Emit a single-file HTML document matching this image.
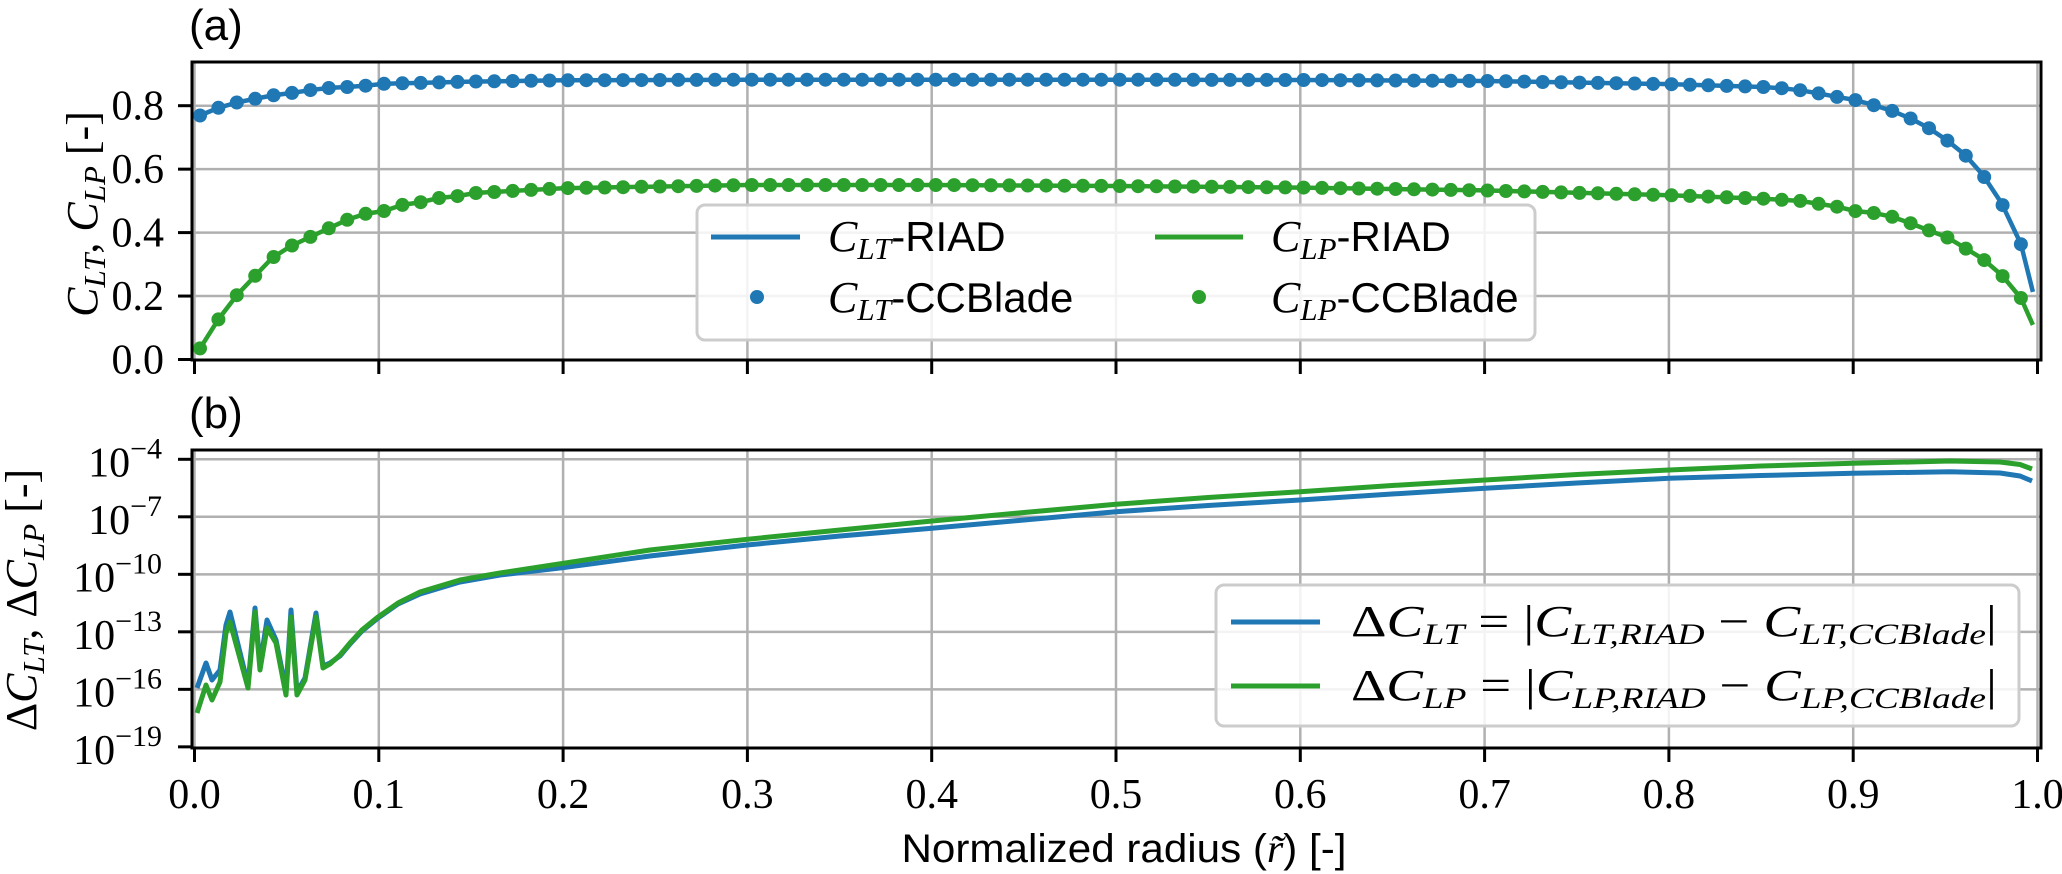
<!DOCTYPE html>
<html><head><meta charset="utf-8">
<style>
html,body{margin:0;padding:0;background:#fff;}
svg{display:block;}
.serif{font-family:"Liberation Serif","DejaVu Serif",serif;}
.sans{font-family:"Liberation Sans","DejaVu Sans",sans-serif;}
</style></head>
<body>
<svg id="s" width="2062" height="874" viewBox="0 0 2062 874" xmlns="http://www.w3.org/2000/svg">
<defs>
<clipPath id="ct"><rect x="192" y="62" width="1849" height="298"/></clipPath>
<clipPath id="cb"><rect x="192" y="450" width="1849" height="298"/></clipPath>
</defs>
<g id="grid" stroke="#b0b0b0" stroke-width="2.5"></g>
<g id="data"></g>
<rect x="192" y="62" width="1849" height="298" fill="none" stroke="#000" stroke-width="3"/>
<rect x="192" y="450" width="1849" height="298" fill="none" stroke="#000" stroke-width="3"/>
<g id="ticks" stroke="#000" stroke-width="3"></g>
<g id="labels" class="serif" font-size="42" fill="#000"></g>

<text x="189" y="40" class="sans" font-size="44">(a)</text>
<text x="189" y="428" class="sans" font-size="44">(b)</text>

<text class="serif" font-size="44" transform="translate(97,214) rotate(-90)" text-anchor="middle"><tspan font-style="italic">C</tspan><tspan font-style="italic" font-size="31" dy="8">LT</tspan><tspan dy="-8">, </tspan><tspan font-style="italic">C</tspan><tspan font-style="italic" font-size="31" dy="8">LP</tspan><tspan dy="-8"> [-]</tspan></text>
<text class="serif" font-size="44" transform="translate(36,600) rotate(-90)" text-anchor="middle">Δ<tspan font-style="italic">C</tspan><tspan font-style="italic" font-size="31" dy="8">LT</tspan><tspan dy="-8">, Δ</tspan><tspan font-style="italic">C</tspan><tspan font-style="italic" font-size="31" dy="8">LP</tspan><tspan dy="-8"> [-]</tspan></text>

<text x="1124" y="862" class="sans" font-size="40" text-anchor="middle" textLength="445" lengthAdjust="spacingAndGlyphs">Normalized radius (<tspan class="serif" font-style="italic">r̃</tspan>) [-]</text>

<rect x="697" y="205" width="838" height="135" rx="8" fill="#fff" fill-opacity="0.85" stroke="#cccccc" stroke-width="3"/>
<line x1="711" y1="237" x2="800" y2="237" stroke="#1f77b4" stroke-width="5"/>
<line x1="1155" y1="237" x2="1243" y2="237" stroke="#2ca02c" stroke-width="5"/>
<circle cx="757" cy="297" r="7" fill="#1f77b4"/>
<circle cx="1199" cy="297" r="7" fill="#2ca02c"/>
<text x="828" y="251" font-size="44"><tspan class="serif" font-style="italic">C</tspan><tspan class="serif" font-style="italic" font-size="31" dy="8">LT</tspan><tspan class="sans" font-size="42" dy="-8">-RIAD</tspan></text>
<text x="828" y="312" font-size="44"><tspan class="serif" font-style="italic">C</tspan><tspan class="serif" font-style="italic" font-size="31" dy="8">LT</tspan><tspan class="sans" font-size="42" dy="-8">-CCBlade</tspan></text>
<text x="1271" y="251" font-size="44"><tspan class="serif" font-style="italic">C</tspan><tspan class="serif" font-style="italic" font-size="31" dy="8">LP</tspan><tspan class="sans" font-size="42" dy="-8">-RIAD</tspan></text>
<text x="1271" y="312" font-size="44"><tspan class="serif" font-style="italic">C</tspan><tspan class="serif" font-style="italic" font-size="31" dy="8">LP</tspan><tspan class="sans" font-size="42" dy="-8">-CCBlade</tspan></text>

<rect x="1216" y="585" width="803" height="141" rx="8" fill="#fff" fill-opacity="0.85" stroke="#cccccc" stroke-width="3"/>
<line x1="1231" y1="622" x2="1320" y2="622" stroke="#1f77b4" stroke-width="5"/>
<line x1="1231" y1="686" x2="1320" y2="686" stroke="#2ca02c" stroke-width="5"/>
<text x="1351" y="636" class="serif" font-size="44" textLength="646" lengthAdjust="spacingAndGlyphs">Δ<tspan font-style="italic">C</tspan><tspan font-style="italic" font-size="30" dy="8">LT</tspan><tspan dy="-8"> = |</tspan><tspan font-style="italic">C</tspan><tspan font-style="italic" font-size="30" dy="8">LT,RIAD</tspan><tspan dy="-8"> − </tspan><tspan font-style="italic">C</tspan><tspan font-style="italic" font-size="30" dy="8">LT,CCBlade</tspan><tspan dy="-8">|</tspan></text>
<text x="1351" y="700" class="serif" font-size="44" textLength="646" lengthAdjust="spacingAndGlyphs">Δ<tspan font-style="italic">C</tspan><tspan font-style="italic" font-size="30" dy="8">LP</tspan><tspan dy="-8"> = |</tspan><tspan font-style="italic">C</tspan><tspan font-style="italic" font-size="30" dy="8">LP,RIAD</tspan><tspan dy="-8"> − </tspan><tspan font-style="italic">C</tspan><tspan font-style="italic" font-size="30" dy="8">LP,CCBlade</tspan><tspan dy="-8">|</tspan></text>
</svg>
<script>
(function(){
var NS="http://www.w3.org/2000/svg";
function el(tag,attrs,parent){var e=document.createElementNS(NS,tag);for(var k in attrs)e.setAttribute(k,attrs[k]);if(parent)parent.appendChild(e);return e;}
var X=function(r){return 194.5+1843*r;};
var YT=function(v){return 359.5-317.25*v;};
var YB=function(e){return 459.3+(-4-e)*19.17;};
var grid=document.getElementById('grid'),ticks=document.getElementById('ticks'),labels=document.getElementById('labels'),data=document.getElementById('data');
for(var i=0;i<=10;i++){var x=X(i/10);
 el('line',{x1:x,y1:62,x2:x,y2:360},grid);el('line',{x1:x,y1:450,x2:x,y2:748},grid);
 el('line',{x1:x,y1:360,x2:x,y2:374},ticks);el('line',{x1:x,y1:748,x2:x,y2:762},ticks);
 var t=el('text',{x:x,y:808,'text-anchor':'middle'},labels);t.textContent=(i/10).toFixed(1);}
for(var j=0;j<=4;j++){var v=j*0.2,y=YT(v);
 if(j>0)el('line',{x1:192,y1:y,x2:2041,y2:y},grid);
 el('line',{x1:178,y1:y,x2:192,y2:y},ticks);
 var t=el('text',{x:164,y:y+14,'text-anchor':'end'},labels);t.textContent=v.toFixed(1);}
[-4,-7,-10,-13,-16,-19].forEach(function(e){var y=YB(e);
 if(e>-19)el('line',{x1:192,y1:y,x2:2041,y2:y},grid);
 el('line',{x1:178,y1:y,x2:192,y2:y},ticks);
 var t=el('text',{x:162,y:y+17,'text-anchor':'end'},labels);
 t.appendChild(document.createTextNode('10'));
 var s=el('tspan',{dy:-18,'font-size':30},t);s.textContent='\u2212'+(-e);});
function interp(tab,r){if(r<=tab[0][0])return tab[0][1];for(var i=1;i<tab.length;i++){if(r<=tab[i][0]){var a=tab[i-1],b=tab[i];return a[1]+(b[1]-a[1])*(r-a[0])/(b[0]-a[0]);}}return tab[tab.length-1][1];}
var blue=[[.003,.769],[.0128,.793],[.023,.81],[.0323,.821],[.0421,.832],[.0524,.84],[.0627,.849],[.073,.856],[.0827,.859],[.0925,.863],[.1028,.869],[.15,.876],[.2,.88],[.3,.882],[.5,.882],[.6,.881],[.7,.878],[.8,.868],[.851,.859],[.8615,.855],[.871,.849],[.881,.839],[.891,.828],[.901,.818],[.911,.802],[.921,.784],[.931,.76],[.9406,.731],[.9507,.692],[.9607,.645],[.9703,.582],[.9806,.492],[.991,.364],[.9975,.213]];
var green=[[.003,.035],[.0128,.125],[.023,.203],[.0323,.26],[.0421,.32],[.0524,.358],[.0627,.386],[.073,.414],[.0827,.44],[.0925,.459],[.1028,.468],[.1126,.487],[.1229,.496],[.1327,.509],[.1426,.515],[.1529,.525],[.2,.54],[.3,.55],[.4,.55],[.5,.547],[.6,.542],[.7,.533],[.8,.518],[.851,.507],[.871,.5],[.891,.482],[.901,.468],[.911,.462],[.921,.45],[.931,.43],[.9406,.408],[.9507,.386],[.9607,.351],[.9703,.317],[.9806,.266],[.991,.194],[.9975,.109]];
var gt=el('g',{'clip-path':'url(#ct)'},data);
[[blue,'#1f77b4'],[green,'#2ca02c']].forEach(function(p){
 var d='M'+p[0].map(function(q){return X(q[0]).toFixed(1)+','+YT(q[1]).toFixed(1);}).join(' L');
 el('path',{d:d,fill:'none',stroke:p[1],'stroke-width':4.5,'stroke-linejoin':'round'},gt);
 for(var i=0;i<100;i++){var r=0.003+0.00998*i;el('circle',{cx:X(r).toFixed(1),cy:YT(interp(p[0],r)).toFixed(1),r:7,fill:p[1]},gt);}
});
var gb=el('g',{'clip-path':'url(#cb)'},data);
var bb=[[197,688],[206,663],[212,680],[220,670],[226,625],[230,612],[248,685],[255,608],[260,665],[267,620],[276,640],[286,690],[291,610],[297,692],[305,678],[316,613],[323,666],[330,663],[340,656],[350,644],[362,631],[378,618],[398,604],[420,594],[460,582],[500,575],[563,567.7],[650,556],[747,545],[840,536],[932,528.3],[1024,520],[1116,511.7],[1208,505.5],[1300,500],[1392,494],[1485,488.3],[1577,483],[1669,478.3],[1761,475.5],[1853,473.3],[1950,471.7],[2000,473],[2020,476],[2032,481]];
var gg=[[197,713],[206,685],[212,700],[220,682],[226,633],[230,622],[248,688],[255,612],[260,670],[267,628],[276,643],[286,695],[291,617],[297,695],[305,680],[316,617],[323,668],[330,664],[340,655],[350,643],[362,630],[378,617],[398,603],[420,592],[460,580],[500,573],[563,563.3],[650,550],[747,539.3],[840,530],[932,521],[1024,512.5],[1116,504.3],[1208,497.5],[1300,491.7],[1392,485.5],[1485,480],[1577,474.5],[1669,470],[1761,466],[1853,463.3],[1950,461],[2000,462],[2020,464.5],[2032,469]];
[[bb,'#1f77b4'],[gg,'#2ca02c']].forEach(function(p){
 var d='M'+p[0].map(function(q){return q[0]+','+q[1];}).join(' L');
 el('path',{d:d,fill:'none',stroke:p[1],'stroke-width':5,'stroke-linejoin':'round'},gb);
});
})();
</script>
</body></html>
